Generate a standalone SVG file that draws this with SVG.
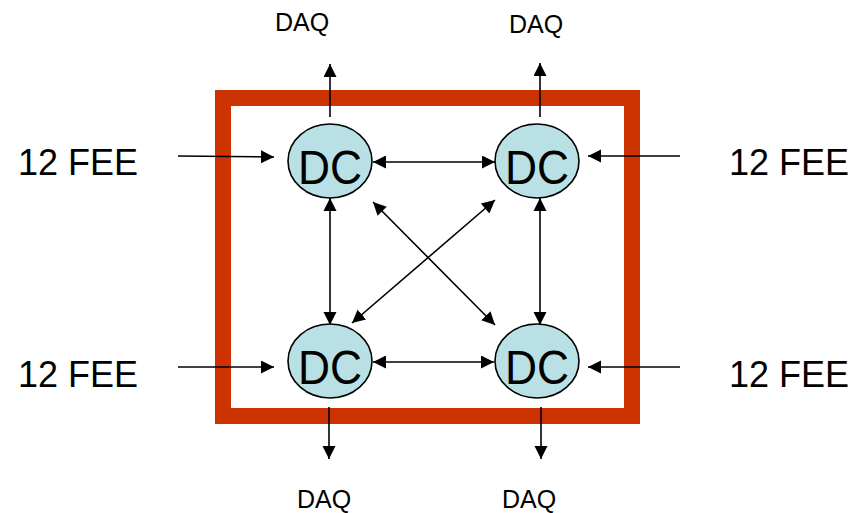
<svg xmlns="http://www.w3.org/2000/svg" width="866" height="513" viewBox="0 0 866 513">
<style>
.dc{fill:#B9E0E4;stroke:#000;stroke-width:1.6}
.dct{font-family:"Liberation Sans",Arial,sans-serif;font-size:48px;text-anchor:middle;fill:#000}
.lbl{font-family:"Liberation Sans",Arial,sans-serif;fill:#000}
.fee{font-size:36px}
.daq{font-size:25px;text-anchor:middle}
.c line{stroke:#000;stroke-width:1.6;fill:none}
.e{marker-end:url(#ah)}
.b{marker-start:url(#ahs);marker-end:url(#ah)}
</style>
<defs>
<marker id="ah" markerUnits="userSpaceOnUse" markerWidth="14" markerHeight="14" refX="13" refY="6.5" orient="auto">
<path d="M0,0 L13,6.5 L0,13 Z" fill="#000"/>
</marker>
<marker id="ahs" markerUnits="userSpaceOnUse" markerWidth="14" markerHeight="14" refX="0" refY="6.5" orient="auto">
<path d="M13,0 L0,6.5 L13,13 Z" fill="#000"/>
</marker>
</defs>
<rect id="frame" x="223" y="98" width="409" height="318" fill="none" stroke="#CC3300" stroke-width="16"/>
<g class="c" id="connectors">
<line class="e" x1="330" y1="117" x2="330" y2="64"/>
<line class="e" x1="540" y1="117" x2="540" y2="63"/>
<line class="e" x1="329" y1="407" x2="329" y2="459"/>
<line class="e" x1="541" y1="407" x2="541" y2="459"/>
<line class="e" x1="178" y1="156" x2="274" y2="157"/>
<line class="e" x1="680" y1="156" x2="588" y2="156"/>
<line class="e" x1="178" y1="367" x2="274" y2="367"/>
<line class="e" x1="680" y1="367" x2="588" y2="367"/>
<line class="b" x1="373" y1="162" x2="495" y2="162"/>
<line class="b" x1="373" y1="362" x2="494" y2="362"/>
<line class="b" x1="330" y1="198" x2="330" y2="325"/>
<line class="b" x1="540" y1="198" x2="540" y2="325"/>
<line class="b" x1="373" y1="202" x2="495" y2="325"/>
<line class="b" x1="495" y1="200" x2="352" y2="323"/>
</g>
<g id="dc1"><ellipse class="dc" cx="330" cy="161" rx="42" ry="37"/><text class="dct" x="330" y="184" textLength="64" lengthAdjust="spacingAndGlyphs">DC</text></g>
<g id="dc2"><ellipse class="dc" cx="537" cy="161" rx="42" ry="37"/><text class="dct" x="537" y="184" textLength="64" lengthAdjust="spacingAndGlyphs">DC</text></g>
<g id="dc3"><ellipse class="dc" cx="330" cy="361" rx="42" ry="37"/><text class="dct" x="330" y="384" textLength="64" lengthAdjust="spacingAndGlyphs">DC</text></g>
<g id="dc4"><ellipse class="dc" cx="537" cy="361" rx="42" ry="37"/><text class="dct" x="537" y="384" textLength="64" lengthAdjust="spacingAndGlyphs">DC</text></g>
<g id="fee1"><text class="lbl fee" x="18" y="175">12 FEE</text></g>
<g id="fee2"><text class="lbl fee" x="729" y="175">12 FEE</text></g>
<g id="fee3"><text class="lbl fee" x="18" y="387">12 FEE</text></g>
<g id="fee4"><text class="lbl fee" x="729" y="387">12 FEE</text></g>
<g id="daq1"><text class="lbl daq" x="302" y="31">DAQ</text></g>
<g id="daq2"><text class="lbl daq" x="536" y="33">DAQ</text></g>
<g id="daq3"><text class="lbl daq" x="324" y="508">DAQ</text></g>
<g id="daq4"><text class="lbl daq" x="529" y="508">DAQ</text></g>
</svg>
